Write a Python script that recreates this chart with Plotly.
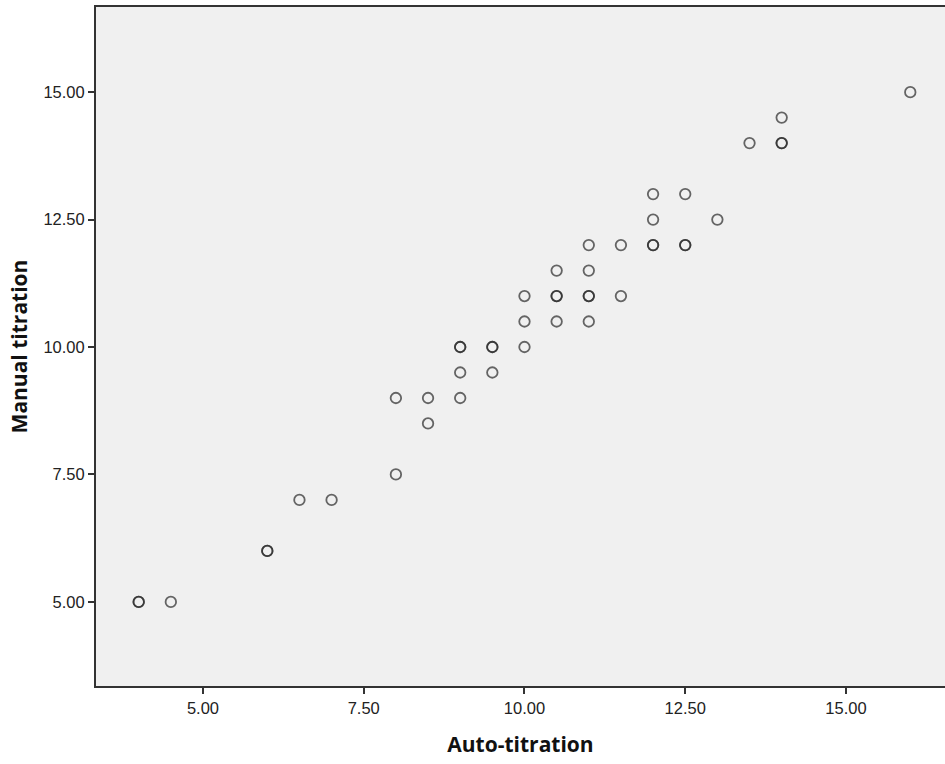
import plotly.graph_objects as go

auto_titration = [4, 4, 4.5, 6, 6, 6.5, 7, 8, 8, 8.5, 8.5, 9, 9, 9, 9, 9.5, 9.5, 9.5,
                  10, 10, 10, 10.5, 10.5, 10.5, 10.5, 11, 11, 11, 11, 11, 11.5, 11.5,
                  12, 12, 12, 12, 12.5, 12.5, 12.5, 13, 13.5, 14, 14, 14, 16]
manual_titration = [5, 5, 5, 6, 6, 7, 7, 7.5, 9, 9, 8.5, 9, 9.5, 10, 10, 10, 10, 9.5,
                    10, 10.5, 11, 10.5, 11, 11, 11.5, 10.5, 11, 11, 11.5, 12, 11, 12,
                    12, 12, 12.5, 13, 12, 12, 13, 12.5, 14, 14, 14, 14.5, 15]

x_ticks = [5, 7.5, 10, 12.5, 15]
y_ticks = [5, 7.5, 10, 12.5, 15]

fig = go.Figure(go.Scatter(
    x=auto_titration, y=manual_titration, mode="markers",
    marker=dict(symbol="circle-open", size=10.5, color="rgba(40,40,40,0.7)",
                line=dict(width=1.8, color="rgba(40,40,40,0.7)")),
    hoverinfo="skip", showlegend=False))

axis_common = dict(showline=True, linecolor="#333333", linewidth=2, ticks="outside",
                   ticklen=6, tickwidth=2, tickcolor="#333333", showgrid=False,
                   zeroline=False, tickfont=dict(family="Liberation Sans, Arial", size=16.5, color="#222"))

title_font = dict(family="Open Sans, Liberation Sans", size=21, color="#111")

fig.update_layout(
    width=945, height=764,
    margin=dict(l=96, r=0, t=7, b=78),
    plot_bgcolor="#f0f0f0", paper_bgcolor="white",
    xaxis=dict(range=[3.336, 16.54], tickvals=x_ticks, ticktext=[f"{v:.2f}" for v in x_ticks],
               mirror=True,
               title=dict(text="<b>Auto-titration</b>", font=title_font, standoff=22),
               **axis_common),
    yaxis=dict(range=[3.35, 16.67], tickvals=y_ticks, ticktext=[f"{v:.2f}" for v in y_ticks],
               title=dict(text="<b>Manual titration</b>", font=title_font, standoff=10),
               **axis_common),
)

fig.write_html("out.html")
